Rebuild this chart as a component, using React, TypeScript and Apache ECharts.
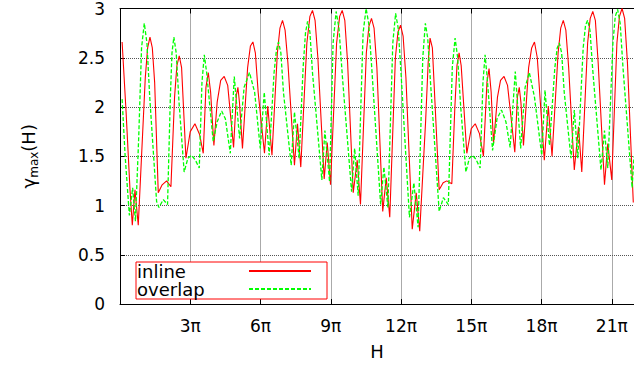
import React, { useEffect, useRef } from 'react';
import * as echarts from 'echarts';

// H in units of pi
const inlineH = [0.09,0.26,0.43,0.525,0.64,0.78,1.08,1.18,1.28,1.38,
  1.48,1.634,1.80,1.99,2.175,2.33,2.43,2.53,2.63,2.816,
  3.0,3.2,3.4,3.555,3.67,3.77,3.87,4.01,4.15,4.3,
  4.45,4.6,4.85,4.97,5.035,5.1,5.23,5.45,5.57,5.675,
  5.78,5.9,6.17,6.31,6.49,6.72,6.83,6.94,7.05,7.17,
  7.45,7.58,7.72,7.98,8.11,8.22,8.33,8.45,8.72,8.85,
  8.99,9.25,9.38,9.49,9.6,9.72,9.96,10.13,10.27,10.52,
  10.63,10.74,10.85,10.97,11.22,11.37,11.52,11.76,11.87,11.98,
  12.09,12.21,12.48,12.65,12.80,13.05,13.16,13.24,13.34,13.45,
  13.63,13.8,13.955,14.17,14.3,14.39,14.48,14.57,14.81,15.0,
  15.17,15.35,15.52,15.67,15.76,15.85,15.95,16.12,16.25,16.40,
  16.55,16.86,16.97,17.05,17.12,17.23,17.45,17.58,17.70,17.82,
  17.95,18.12,18.29,18.45,18.71,18.82,18.93,19.04,19.16,19.40,
  19.58,19.72,19.97,20.08,20.19,20.30,20.42,20.69,20.83,21.0,
  21.22,21.33,21.44,21.55,21.67,21.92];
const inlineGamma = [2.66,1.95,1.15,0.80,1.16,0.80,2.30,2.60,2.71,2.60,
  2.25,1.13,1.21,1.25,1.19,2.10,2.42,2.52,2.40,1.48,
  1.75,1.83,1.72,1.53,2.20,2.35,2.15,1.61,2.05,2.27,
  2.31,2.22,1.59,2.12,2.20,2.05,1.58,2.40,2.62,2.66,
  2.55,2.15,1.53,2.01,1.51,2.55,2.80,2.88,2.78,2.45,
  1.41,1.83,1.39,2.65,2.92,2.98,2.88,2.50,1.27,1.64,
  1.21,2.65,2.92,2.98,2.88,2.45,1.13,1.46,1.01,2.55,
  2.82,2.90,2.80,2.40,0.94,1.28,0.88,2.50,2.76,2.83,
  2.72,2.30,0.76,1.13,0.74,1.85,2.45,2.70,2.60,2.05,
  1.16,1.23,1.25,1.22,2.0,2.42,2.55,2.42,1.53,1.78,
  1.83,1.73,1.50,2.25,2.39,2.15,1.63,2.10,2.27,2.31,
  2.22,1.54,2.10,2.20,2.05,1.61,2.40,2.60,2.66,2.50,
  2.05,1.46,2.01,1.50,2.55,2.80,2.88,2.78,2.40,1.36,
  1.80,1.34,2.65,2.90,2.97,2.88,2.45,1.21,1.63,1.26,
  2.65,2.92,3.0,2.90,2.45,1.03];

const overlapH = [0.09,0.22,0.40,0.54,0.66,0.80,0.92,1.037,1.15,1.27,
  1.563,1.663,1.85,2.03,2.15,2.22,2.30,2.40,2.52,2.74,
  2.90,3.057,3.22,3.385,3.50,3.60,3.70,3.98,4.15,4.34,
  4.50,4.71,4.88,5.106,5.30,5.53,5.75,5.99,6.16,6.37,
  6.58,6.68,6.77,6.87,6.98,7.31,7.45,7.65,7.82,7.92,
  8.01,8.11,8.22,8.62,8.75,8.95,9.10,9.23,9.35,9.50,
  9.89,10.02,10.17,10.38,10.51,10.62,10.75,11.13,11.27,11.44,
  11.65,11.77,11.88,12.0,12.36,12.55,12.73,12.93,13.04,13.14,
  13.26,13.63,13.81,14.02,14.19,14.31,14.42,14.55,14.77,14.92,
  15.05,15.20,15.38,15.50,15.59,15.68,15.91,16.10,16.29,16.48,
  16.66,16.88,17.11,17.30,17.48,17.70,18.01,18.15,18.34,18.57,
  18.67,18.76,18.86,18.97,19.26,19.40,19.55,19.78,19.88,19.97,
  20.07,20.18,20.54,20.69,20.83,21.05,21.15,21.25,21.36,21.48,
  21.87,21.95];
const overlapGamma = [2.08,1.50,0.90,1.18,0.84,1.70,2.60,2.85,2.65,2.10,
  1.04,0.98,1.06,1.01,2.10,2.55,2.71,2.55,2.05,1.34,
  1.48,1.51,1.46,1.38,2.25,2.53,2.35,1.65,1.85,1.96,
  1.88,1.53,2.31,1.68,2.20,2.35,2.15,1.58,2.15,1.51,
  2.35,2.58,2.66,2.55,2.15,1.41,1.95,1.48,2.40,2.75,
  2.87,2.76,2.35,1.26,1.76,1.24,2.65,2.97,2.80,2.30,
  1.14,1.58,1.10,2.75,3.0,2.85,2.40,1.01,1.39,0.98,
  2.65,2.95,2.80,2.35,0.88,1.23,0.78,2.50,2.85,2.70,
  2.25,0.94,1.08,1.01,2.40,2.70,2.50,2.0,1.34,1.48,
  1.51,1.47,1.38,2.25,2.53,2.30,1.56,1.88,1.97,1.85,
  1.59,2.36,1.58,2.20,2.35,2.10,1.51,2.17,1.61,2.40,
  2.60,2.65,2.55,2.15,1.48,1.97,1.48,2.60,2.83,2.88,
  2.78,2.40,1.36,1.76,1.38,2.65,2.92,2.99,2.85,2.40,
  1.18,1.50];

const seriesNames = ['inline', 'overlap'];
const xTickStep = 3; // labels every 3π
const yTickStep = 0.5;

const FONT = 'DejaVu Sans';

export default function App() {
  const ref = useRef<HTMLDivElement>(null);
  useEffect(() => {
    const chart = echarts.init(ref.current!, null, { renderer: 'svg' });
    const gridLine = { show: true, lineStyle: { type: 'dotted', color: '#555', width: 1 } };
    const axisLine = { show: true, onZero: false, lineStyle: { color: '#000', width: 1 } };
    const axisTick = { show: true, inside: true, length: 5, lineStyle: { color: '#000', width: 1 } };
    chart.setOption({
      animation: false,
      backgroundColor: '#fff',
      grid: { left: 120, right: 0, top: 5, bottom: 62, containLabel: false },
      xAxis: [
        {
          type: 'value', min: 0, max: 21.95, interval: xTickStep, position: 'bottom',
          axisLine, axisTick, splitLine: gridLine,
          axisLabel: {
            fontFamily: FONT, fontSize: 17, color: '#000', margin: 13,
            showMinLabel: false, showMaxLabel: false,
            formatter: (v: number) => (v > 0 && Math.abs(v % xTickStep) < 1e-6 ? `${v}π` : ''),
          },
          name: 'H', nameLocation: 'middle', nameGap: 38,
          nameTextStyle: { fontFamily: FONT, fontSize: 18, color: '#000' },
        },
        {
          type: 'value', min: 0, max: 21.95, interval: xTickStep, position: 'top',
          axisLine, axisTick, splitLine: { show: false }, axisLabel: { show: false },
        },
      ],
      yAxis: {
        type: 'value', min: 0, max: 3, interval: yTickStep,
        axisLine, axisTick, splitLine: gridLine,
        axisLabel: { fontFamily: FONT, fontSize: 17, color: '#000', margin: 15 },
        name: '{g|γ}{s|max}{g|(H)}', nameLocation: 'middle', nameGap: 80, nameRotate: 90,
        nameTextStyle: {
          color: '#000',
          rich: {
            g: { fontFamily: FONT, fontSize: 18, color: '#000', lineHeight: 24 },
            s: { fontFamily: FONT, fontSize: 12, color: '#000', lineHeight: 12, verticalAlign: 'bottom' },
          },
        },
      },
      legend: {
        data: seriesNames,
        orient: 'vertical', left: 136, top: 262, align: 'right',
        itemWidth: 62, itemHeight: 18, itemGap: 0,
        padding: [0, 15, 1, 1],
        borderColor: '#ff0000', borderWidth: 1, backgroundColor: '#fff',
        selectedMode: false,
        itemStyle: { color: 'transparent', borderWidth: 0 },
        formatter: (n: string) => `{t|${n}}`,
        textStyle: {
          fontFamily: FONT, fontSize: 18, color: '#000', lineHeight: 18,
          rich: { t: { width: 107, align: 'left', fontFamily: FONT, fontSize: 18, lineHeight: 18, color: '#000' } },
        },
      },
      series: [
        {
          type: 'line', name: seriesNames[0], xAxisIndex: 0,
          data: inlineH.map((h, i) => [h, inlineGamma[i]]),
          symbol: 'none',
          lineStyle: { color: '#ff0000', width: 1.1 },
          itemStyle: { color: '#ff0000' },
        },
        {
          type: 'line', name: seriesNames[1], xAxisIndex: 0,
          data: overlapH.map((h, i) => [h, overlapGamma[i]]),
          symbol: 'none',
          lineStyle: { color: '#00ff00', width: 1.3, type: [4, 2] },
          itemStyle: { color: '#00ff00' },
        },
      ],
    });
    return () => chart.dispose();
  }, []);
  return (
    <div
      ref={ref}
      style={{ position: 'absolute', left: 0, top: 0, width: 634, height: 366, background: '#fff' }}
    />
  );
}
